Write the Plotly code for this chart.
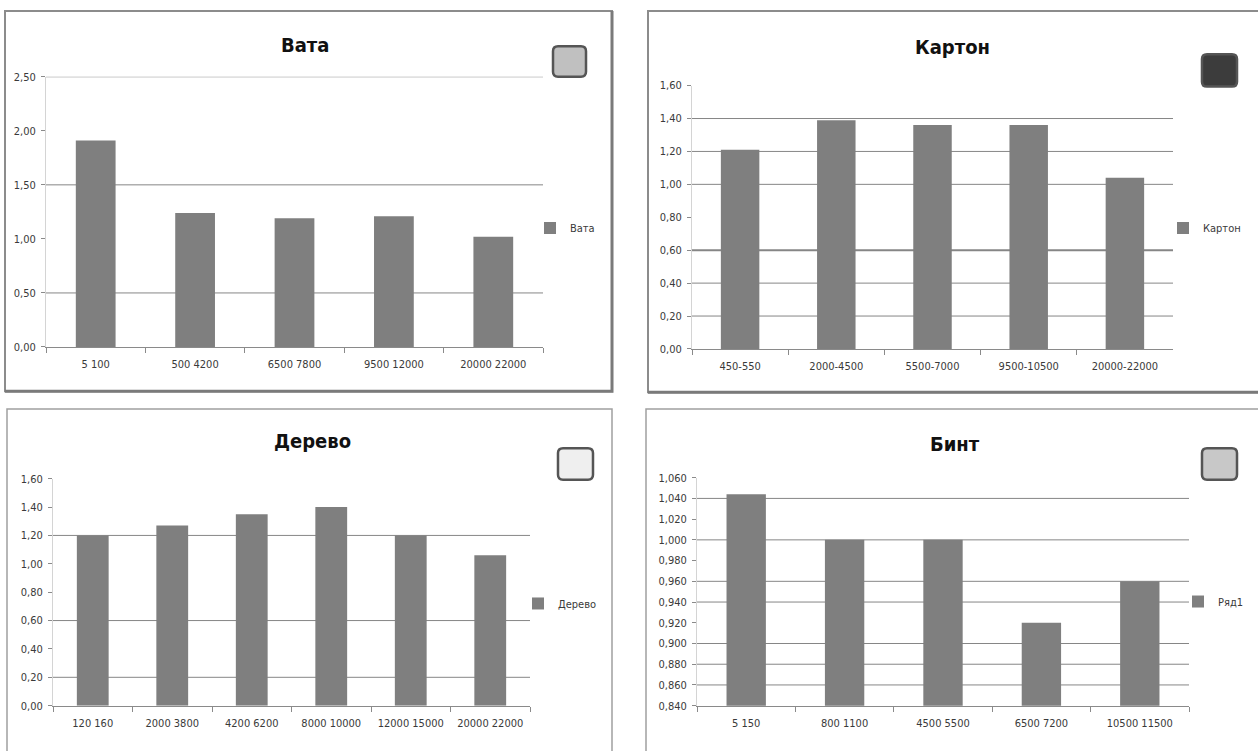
import plotly.graph_objects as go

W, H = 1258, 751

# ---------------- data ----------------
vata_cats = ["5 100", "500 4200", "6500 7800", "9500 12000", "20000 22000"]
vata_vals = [1.91, 1.24, 1.19, 1.21, 1.02]
vata_grid = [0.5, 1.5, 2.5]

karton_cats = ["450-550", "2000-4500", "5500-7000", "9500-10500", "20000-22000"]
karton_vals = [1.21, 1.39, 1.36, 1.36, 1.04]
karton_grid = [0.2, 0.4, 0.6, 1.0, 1.2, 1.4]

derevo_cats = ["120 160", "2000 3800", "4200 6200", "8000 10000", "12000 15000", "20000 22000"]
derevo_vals = [1.20, 1.27, 1.35, 1.40, 1.20, 1.06]
derevo_grid = [0.2, 0.6, 1.2]

bint_cats = ["5 150", "800 1100", "4500 5500", "6500 7200", "10500 11500"]
bint_vals = [1.044, 1.000, 1.000, 0.920, 0.960]
bint_grid = [0.86, 0.88, 0.90, 0.94, 0.96, 1.00, 1.04]

FONT = "Liberation Sans Narrow, DejaVu Sans Condensed, Arial Narrow, sans-serif"
BAR = "#7f7f7f"
TXT = "#3a3a3a"


def px(x):
    return x / W


def py(y):
    return 1 - y / H


# panel definitions (pixel geometry of the reference)
panels = [
    dict(name="Вата", legend_name="Вата", cats=vata_cats, vals=vata_vals, grid=vata_grid,
         rng=[0, 2.5], dtick=0.5, fmt=".2f", bold_grid=[],
         plot=(46, 543, 72, 347), frame=(5, 612, 5, 392), shadow=True, title=(305, 40),
         sq=(553, 586, 41, 72), sqfill="#c0c0c0", leg=(530, 226)),
    dict(name="Картон", legend_name="Картон", cats=karton_cats, vals=karton_vals, grid=karton_grid,
         rng=[0, 1.6], dtick=0.2, fmt=".2f", bold_grid=[0.6],
         plot=(692, 1173, 81, 349), frame=(648, 1262, 5, 393), shadow=True, title=(952, 42),
         sq=(1202, 1237, 49, 82), sqfill="#3c3c3c", leg=(1163, 226)),
    dict(name="Дерево", legend_name="Дерево", cats=derevo_cats, vals=derevo_vals, grid=derevo_grid,
         rng=[0, 1.6], dtick=0.2, fmt=".2f", bold_grid=[],
         plot=(53, 530, 481, 712), frame=(7, 612, 410, 760), shadow=False, title=(312, 443),
         sq=(558, 593, 450, 482), sqfill="#efefef", leg=(518, 608)),
    dict(name="Бинт", legend_name="Ряд1", cats=bint_cats, vals=bint_vals, grid=bint_grid,
         rng=[0.84, 1.06], dtick=0.02, fmt=".3f", bold_grid=[],
         plot=(697, 1189, 480, 712), frame=(646, 1262, 410, 760), shadow=False, title=(955, 446),
         sq=(1202, 1237, 450, 482), sqfill="#c8c8c8", leg=(1178, 606)),
]

fig = go.Figure()
shapes = []
annotations = []
layout = {}


def rounded_rect(x0, x1, y0, y1, r):
    X = lambda v: f"{px(v):.5f}"
    Y = lambda v: f"{py(v):.5f}"
    return (f"M {X(x0 + r)},{Y(y0)} L {X(x1 - r)},{Y(y0)} Q {X(x1)},{Y(y0)} {X(x1)},{Y(y0 + r)} "
            f"L {X(x1)},{Y(y1 - r)} Q {X(x1)},{Y(y1)} {X(x1 - r)},{Y(y1)} "
            f"L {X(x0 + r)},{Y(y1)} Q {X(x0)},{Y(y1)} {X(x0)},{Y(y1 - r)} "
            f"L {X(x0)},{Y(y0 + r)} Q {X(x0)},{Y(y0)} {X(x0 + r)},{Y(y0)} Z")


for i, p in enumerate(panels, start=1):
    sfx = "" if i == 1 else str(i)
    xa, ya = "x" + sfx, "y" + sfx
    leg = "legend" + sfx
    fig.add_trace(go.Bar(
        x=p["cats"], y=p["vals"], name=p["legend_name"], marker_color=BAR,
        marker_line_width=0, xaxis=xa, yaxis=ya, legend=leg, showlegend=True,
    ))
    l, r, t, b = p["plot"]
    layout["xaxis" + sfx] = dict(
        domain=[px(l), px(r)], anchor=ya, type="category",
        showline=True, linecolor="#8a8a8a", linewidth=1,
        ticks="outside", tickson="boundaries", ticklen=5, tickcolor="#8a8a8a",
        showgrid=False, zeroline=False, ticklabelstandoff=7, tickangle=0,
        tickfont=dict(family=FONT, size=11, color=TXT), fixedrange=True,
    )
    layout["yaxis" + sfx] = dict(
        domain=[py(b), py(t)], anchor=xa, range=p["rng"], dtick=p["dtick"], tick0=p["rng"][0],
        tickformat=p["fmt"], showline=True, linecolor="#d4d4d4", linewidth=1,
        ticks="outside", ticklen=4, tickcolor="#8a8a8a", showgrid=False, zeroline=False,
        ticklabelstandoff=3, tickfont=dict(family=FONT, size=11, color=TXT), fixedrange=True,
    )
    layout[leg] = dict(
        x=px(p["leg"][0]), y=py(p["leg"][1]), xanchor="left", yanchor="middle",
        bgcolor="rgba(0,0,0,0)", borderwidth=0, itemwidth=30,
        font=dict(family=FONT, size=11, color=TXT),
    )
    for g in p["grid"]:
        w = 2 if g in p["bold_grid"] else 1
        shapes.append(dict(type="line", xref=xa + " domain", yref=ya, x0=0, x1=1, y0=g, y1=g,
                           line=dict(color="#868686", width=w), layer="below"))
    fl, fr, ft, fb = p["frame"]
    fcol = "#8c8c8c" if p["shadow"] else "#a0a0a0"
    shapes.append(dict(type="rect", xref="paper", yref="paper", x0=px(fl), x1=px(fr),
                       y0=py(fb), y1=py(ft), line=dict(color=fcol, width=2 if p["shadow"] else 1.5),
                       fillcolor="rgba(0,0,0,0)", layer="below"))
    if p["shadow"]:
        shapes.append(dict(type="path", xref="paper", yref="paper",
                           path=f"M {px(fl):.5f},{py(fb):.5f} L {px(fr):.5f},{py(fb):.5f} L {px(fr):.5f},{py(ft):.5f}",
                           line=dict(color="#7a7a7a", width=3), layer="below"))
    sl, sr, st, sb = p["sq"]
    shapes.append(dict(type="path", xref="paper", yref="paper", path=rounded_rect(sl, sr, st, sb, 5),
                       fillcolor=p["sqfill"], line=dict(color="#555555", width=2.5)))
    annotations.append(dict(text=f"<b>{p['name']}</b>", x=px(p["title"][0]), y=py(p["title"][1]),
                            xref="paper", yref="paper", showarrow=False, xanchor="center",
                            yanchor="middle", font=dict(family=FONT, size=20, color="#111111")))

fig.update_layout(
    width=W, height=H, margin=dict(l=0, r=0, t=0, b=0),
    paper_bgcolor="white", plot_bgcolor="rgba(0,0,0,0)",
    bargap=0.6, separators=", ", shapes=shapes, annotations=annotations,
    **layout,
)

fig.write_html(
    "out.html",
    config={"displayModeBar": False},
    post_script=(
        "document.body.style.margin='0px';"
        "document.documentElement.style.overflow='hidden';"
        "document.body.style.overflow='hidden';"
        "var gd=document.getElementById('{plot_id}');"
        "gd.style.position='fixed';gd.style.left='0px';gd.style.top='0px';"
    ),
)
